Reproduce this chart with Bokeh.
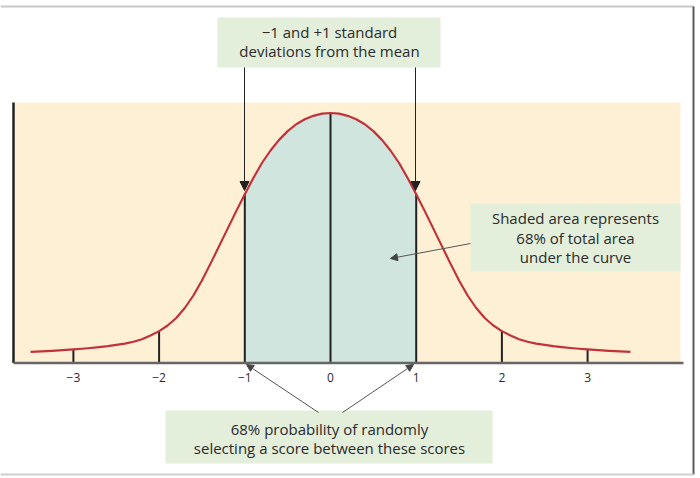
from bokeh.plotting import figure
from bokeh.models import Range1d, LinearAxis, FixedTicker, Arrow, NormalHead
from bokeh.core.properties import value
from bokeh.embed import file_html
from bokeh.resources import INLINE

# ---- data ----
half_x = [-3.5, -3.25, -3.0, -2.9, -2.8, -2.7, -2.6, -2.5, -2.4, -2.3, -2.2, -2.1, -2.0, -1.9, -1.8, -1.7, -1.6, -1.5,
          -1.4, -1.3, -1.2, -1.1, -1.0, -0.9, -0.8, -0.7, -0.6, -0.5, -0.4, -0.3, -0.2, -0.1, 0.0]
half_y = [0.0178, 0.0195, 0.0218, 0.0228, 0.024, 0.0255, 0.027, 0.029, 0.031, 0.034, 0.038, 0.044, 0.051, 0.060,
          0.072, 0.088, 0.108, 0.132, 0.159, 0.187, 0.215, 0.243, 0.270, 0.296, 0.320, 0.340, 0.357, 0.371, 0.382,
          0.390, 0.3955, 0.399, 0.400]
curve_x = half_x + [-x for x in reversed(half_x[:-1])]
curve_y = half_y + list(reversed(half_y[:-1]))
tick_values = [-3, -2, -1, 0, 1, 2, 3]
tick_labels = ["\u22123", "\u22122", "\u22121", "0", "1", "2", "3"]
shade_lo, shade_hi = -1, 1

top_note = ["\u22121 and +1 standard", "deviations from the mean"]
right_note = ["Shaded area represents", "68% of total area", "under the curve"]
bottom_note = ["68% probability of randomly", "selecting a score between these scores"]

# ---- layout helpers (page pixel -> data) ----
W, H = 696, 476
OX, OY = 0, 0
PX0, PXU = 330.0, 85.7
PY0, PYU = 362.5, 0.0016


def X(px):
    return (px - PX0) / PXU


def Y(py):
    return (PY0 - py) * PYU


p = figure(width=W, height=H, output_backend="svg", toolbar_location=None,
           x_range=Range1d(X(OX), X(OX + W)), y_range=Range1d(Y(OY + H), Y(OY)),
           x_axis_type=None, y_axis_type=None, min_border=0)
p.outline_line_color = None
p.background_fill_color = "white"
p.border_fill_color = "white"
p.xgrid.visible = False
p.ygrid.visible = False

FONT = value("Open Sans")
TXT = "#2b2b2b"
BOX = "#e3eedb"

# beige plotting region
p.quad(left=X(13), right=X(680), bottom=0, top=Y(102), fill_color="#fdf0d5", line_color=None)

# shaded area
sx = [x for x in curve_x if shade_lo <= x <= shade_hi]
sy = [y for x, y in zip(curve_x, curve_y) if shade_lo <= x <= shade_hi]
p.varea(x=sx, y1=[0] * len(sx), y2=sy, fill_color="#cfe5dd")

# vertical lines at ticks up to the curve
lookup = {round(x, 3): y for x, y in zip(curve_x, curve_y)}
p.segment(x0=tick_values, y0=[0] * len(tick_values), x1=tick_values,
          y1=[lookup[round(float(t), 3)] for t in tick_values], line_color="#222222", line_width=2)

# left vertical line
p.segment(x0=[X(13)], y0=[0], x1=[X(13)], y1=[Y(102)], line_color="#222222", line_width=2.5)

# curve
p.line(curve_x, curve_y, line_color="#c1323b", line_width=2.2, line_join="round")

# x axis at y=0
ax = LinearAxis(fixed_location=0)
ax.ticker = FixedTicker(ticks=tick_values)
ax.major_label_overrides = {t: l for t, l in zip(tick_values, tick_labels)}
ax.major_tick_in = 0
ax.major_tick_out = 0
ax.minor_tick_in = 0
ax.minor_tick_out = 0
ax.axis_line_color = None
ax.major_label_text_font = "Open Sans"
ax.major_label_text_font_size = "12px"
ax.major_label_text_color = TXT
ax.major_label_standoff = 10
p.add_layout(ax, "below")
p.segment(x0=[X(13)], y0=[0], x1=[X(683)], y1=[0], line_color="#666666", line_width=2.5)


# annotation boxes
def box(l, r, t, b):
    p.quad(left=X(l), right=X(r), top=Y(t), bottom=Y(b), fill_color=BOX, line_color=None)


def lines(cx, ys, texts):
    p.text(x=[X(cx)] * len(texts), y=[Y(v) for v in ys], text=texts, text_font=FONT,
           text_font_size="15px", text_color=TXT, text_align="center", text_baseline="middle")


box(217, 440, 17, 67)
lines(329, [31, 50], top_note)
box(470, 680, 203, 271)
lines(575, [217, 237, 256], right_note)
box(165, 492, 410, 463)
lines(329, [428, 447], bottom_note)

# arrows
for x0 in (244, 415):
    p.add_layout(Arrow(end=NormalHead(size=9, fill_color="#222222", line_color="#222222"),
                       x_start=X(x0), y_start=Y(67), x_end=X(x0), y_end=Y(190),
                       line_color="#222222", line_width=1))
for (xs, ys, xe, ye) in ((318, 412, 246, 364), (342, 412, 413, 364), (470, 243, 390, 258)):
    p.add_layout(Arrow(end=NormalHead(size=7, fill_color="#444444", line_color="#444444"),
                       x_start=X(xs), y_start=Y(ys), x_end=X(xe), y_end=Y(ye),
                       line_color="#555555", line_width=1))

# page frame
p.segment(x0=[X(0)], y0=[Y(6)], x1=[X(693)], y1=[Y(6)], line_color="#c8c8c8", line_width=2)
p.segment(x0=[X(693)], y0=[Y(6)], x1=[X(693)], y1=[Y(474)], line_color="#5a5a5a", line_width=2)
p.segment(x0=[X(0)], y0=[Y(474)], x1=[X(693)], y1=[Y(474)], line_color="#cfcfcf", line_width=2)

open("out.html", "w").write(file_html(p, INLINE))
